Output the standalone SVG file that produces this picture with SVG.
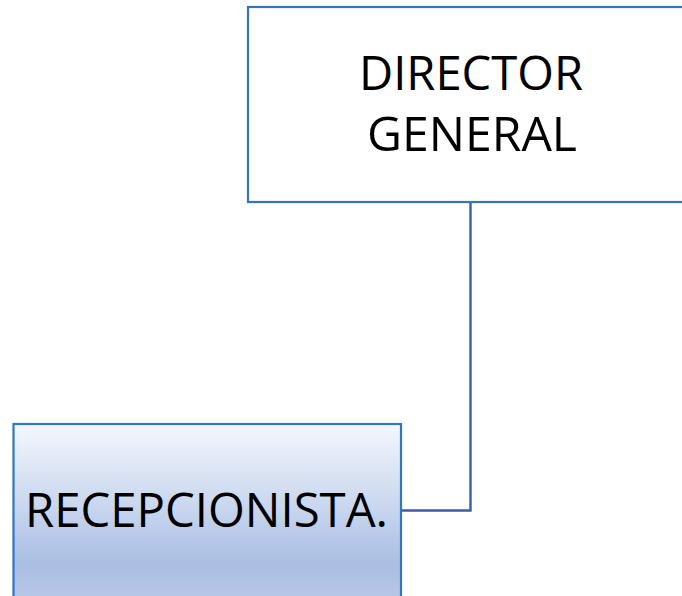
<svg xmlns="http://www.w3.org/2000/svg" width="682" height="596" viewBox="0 0 682 596">
<defs>
<linearGradient id="g1" x1="0" y1="0" x2="0" y2="1">
<stop offset="0" stop-color="#F4F7FC"/>
<stop offset="0.45" stop-color="#C9D6EE"/>
<stop offset="0.76" stop-color="#A9BEE3"/>
<stop offset="1" stop-color="#BCCBE9"/>
</linearGradient>
<style>
.box{stroke:#2F76C4;stroke-width:2.2}
.t{font-family:"Open Sans","Noto Sans","Liberation Sans",sans-serif;font-size:48px;fill:#000;text-anchor:middle}
.c{fill:none;stroke:#3A5EA8;stroke-width:2.4}
</style>
</defs>
<rect width="682" height="596" fill="#fff"/>
<g id="connectors">
<polyline class="c" points="470.5,202 470.5,510.5 401,510.5"/>
</g>
<g id="director">
<rect class="box" x="248" y="7" width="450" height="195" fill="#fff"/>
<text class="t" x="471" y="90" textLength="224" lengthAdjust="spacingAndGlyphs">DIRECTOR</text>
<text class="t" x="472" y="151" textLength="210" lengthAdjust="spacingAndGlyphs">GENERAL</text>
</g>
<g id="recepcionista">
<rect class="box" x="13.5" y="424" width="387.5" height="185" fill="url(#g1)"/>
<text class="t" x="206.5" y="527" textLength="363" lengthAdjust="spacingAndGlyphs">RECEPCIONISTA.</text>
</g>
</svg>
